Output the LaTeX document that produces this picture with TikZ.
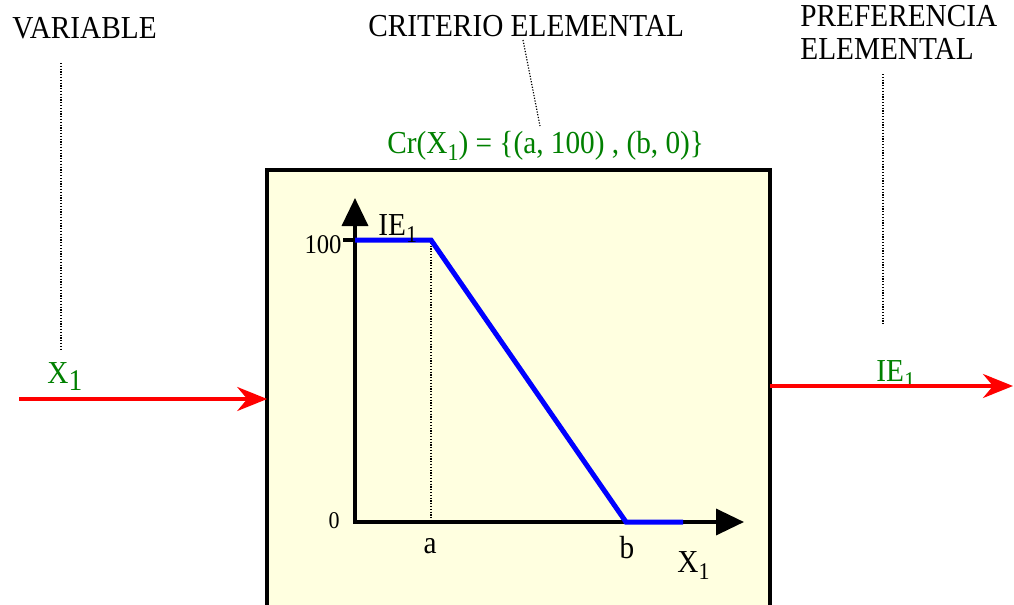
\documentclass[tikz,border=0pt]{standalone}
\usepackage{fontspec}
\setmainfont{Liberation Serif}[FakeStretch=0.915]
\usetikzlibrary{arrows.meta,positioning}
\definecolor{blockfill}{RGB}{255,255,224}
\definecolor{labelgreen}{RGB}{0,128,0}
\newcommand{\lowidx}[2][12]{\raisebox{-3.5pt}{\fontsize{#1}{#1}\selectfont #2}}

\begin{document}
\begin{tikzpicture}[
    x=0.5pt, y=-0.5pt,
    font=\fontsize{16}{16.5}\selectfont,
    >={Triangle[length=14pt,width=13pt]},
    title/.style={inner sep=0pt, anchor=base west},
    formula/.style={inner sep=0pt, anchor=base west, text=labelgreen},
    ticklabel/.style={inner sep=0pt, font=\fontsize{13.5}{14}\selectfont},
    block/.style={draw, line width=2.1pt, fill=blockfill, outer sep=0pt, minimum width=251.5pt, minimum height=250pt, anchor=north west},
    lead/.style={line width=0.6pt, dash pattern=on 0.6pt off 0.8pt},
    flow/.style={draw=red, line width=1.8pt, -{Stealth[length=15pt,width=12pt,inset=5pt]}},
    axis/.style={line width=1.8pt, line join=miter},
    curve/.style={draw=blue, line width=2.5pt, line join=miter}
]
\clip (0,0) rectangle (1014,605);

\node[title] (variable) at (12,39) {VARIABLE};
\node[title] (criterio) at (368,37) {CRITERIO ELEMENTAL};
\node[inner sep=0pt, anchor=north west, align=left] (preferencia) at (800,5) {PREFERENCIA\\ELEMENTAL};

\node[formula] (crit) at (387,153) {Cr(X\lowidx{1}) = \{(a, 100) , (b, 0)\}};
\node[block] (block) at (267.2,169.6) {};

\coordinate (varleadtop) at (61,63);
\coordinate (varleadbot) at (61,350);
\draw[lead] (varleadtop) -- (varleadbot);
\coordinate (critleadtop) at (523,40);
\coordinate (critleadbot) at (540,126);
\draw[lead] (critleadtop) -- (critleadbot);
\coordinate (prefleadtop) at (883,74);
\coordinate (prefleadbot) at (883,325);
\draw[lead] (prefleadtop) -- (prefleadbot);

\node[formula] (xin) at (47,383) {X\lowidx[15]{1}};
\coordinate (varin) at (19,399);
\draw[flow] (varin) -- (varin -| block.west);

\node[formula] (ieout) at (876,381) {IE\lowidx{1}};
\coordinate (prefout) at (1013,386);
\draw[flow] (prefout -| block.east) -- (prefout);

\coordinate (origin) at (355,522);
\coordinate (ytop) at (355,198);
\coordinate (xend) at (744,522);
\coordinate (plateau) at (355,240);
\coordinate (knee) at (431,240);
\coordinate (zero) at (626,522);
\coordinate (tail) at (683,522);

\draw[lead] (knee) -- (knee |- origin);
\draw[axis, <->] (ytop) -- (origin) -- (xend);
\draw[axis] (343,240) -- (plateau);
\draw[curve] (plateau) -- (knee) -- (zero) -- (tail);

\node[ticklabel, anchor=base east] (hundred) at (342,253) {100};
\node[ticklabel, anchor=base east, font=\fontsize{12}{12}\selectfont] (nought) at (340,528) {0};
\node[inner sep=0pt, anchor=base] (alabel) at (430,553) {a};
\node[inner sep=0pt, anchor=base] (blabel) at (627,558) {b};
\node[title] (xaxis) at (677,572) {X\lowidx{1}};
\node[title] (yaxis) at (378,235) {IE\lowidx{1}};
\end{tikzpicture}
\end{document}
